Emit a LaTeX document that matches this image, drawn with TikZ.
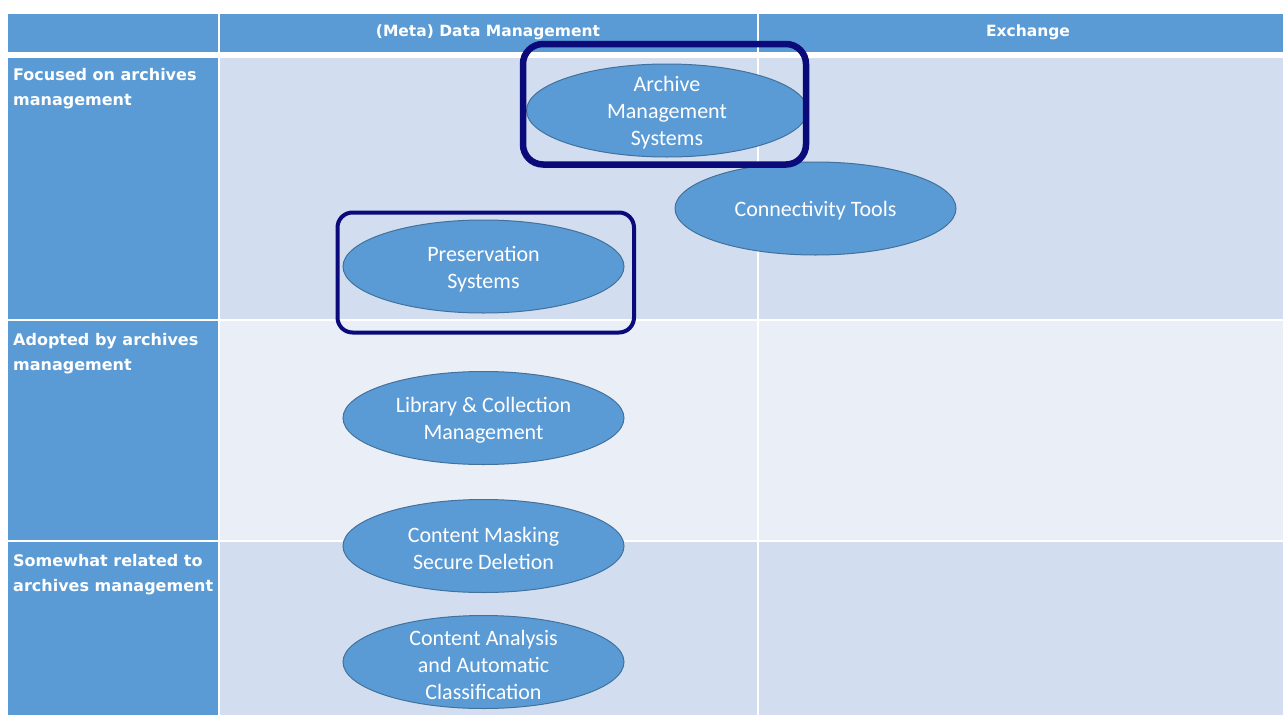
\documentclass[tikz,border=0pt]{standalone}
\usepackage{fontspec}
\setmainfont{Carlito}
\newfontfamily\hdrfont{DejaVu Sans}
\usetikzlibrary{shapes.geometric}

\definecolor{hdrblue}{HTML}{5B9BD5}
\definecolor{bandA}{HTML}{D2DEEF}
\definecolor{bandB}{HTML}{EAEFF7}
\definecolor{ovalline}{HTML}{41719C}
\definecolor{framenavy}{RGB}{10,10,122}

\tikzset{
  cellhead/.style={fill=hdrblue},
  oval/.style={ellipse, draw=ovalline, line width=1pt, fill=hdrblue,
    minimum width=281pt, minimum height=93pt, inner sep=0pt},
  ovaltext/.style={text=white, align=center, inner sep=0pt,
    font=\fontsize{22}{27}\selectfont},
  coltitle/.style={text=white, font=\hdrfont\bfseries\fontsize{15.5}{19}\selectfont},
  rowtitle/.style={text=white, anchor=north west, align=left, inner sep=0pt,
    font=\hdrfont\bfseries\fontsize{16}{25}\selectfont},
  focusframe/.style={draw=framenavy, rounded corners=#1},
}

\begin{document}
\begin{tikzpicture}[x=1pt, y=-1pt]
  % canvas
  \fill[white] (0,0) rectangle (1283,715);
  \useasboundingbox (0,0) rectangle (1283,715);

  % header row
  \fill[cellhead] (8,14) rectangle (218,52);
  \fill[cellhead] (220,14) rectangle (757,52);
  \fill[cellhead] (759,14) rectangle (1283,52);

  % row label column
  \fill[cellhead] (8,58) rectangle (218,319);
  \fill[cellhead] (8,321) rectangle (218,540);
  \fill[cellhead] (8,542) rectangle (218,715);

  % body bands
  \fill[bandA] (220,58) rectangle (757,319);
  \fill[bandA] (759,58) rectangle (1283,319);
  \fill[bandB] (220,321) rectangle (757,540);
  \fill[bandB] (759,321) rectangle (1283,540);
  \fill[bandA] (220,542) rectangle (757,715);
  \fill[bandA] (759,542) rectangle (1283,715);

  % column titles
  \node[coltitle] (hmeta) at (488,32) {(Meta) Data Management};
  \node[coltitle] (hexch) at (1028,32) {Exchange};

  % row titles
  \node[rowtitle] (rfocus) at (13,68.5) {Focused on archives\\management};
  \node[rowtitle] (radopt) at (13,333.5) {Adopted by archives\\management};
  \node[rowtitle] (rsome) at (13,554) {Somewhat related to\\archives management};

  % frame around the preservation group
  \draw[focusframe=15pt, line width=4pt] (337.5,212.5) rectangle (634,332.5);

  % tool categories
  \node[oval] (ams) at (667,110.5) {};
  \node[oval] (conn) at (815.5,208.5) {};
  \node[oval] (pres) at (483.5,266.5) {};
  \node[oval] (lib) at (483.5,418) {};
  \node[oval] (mask) at (483.5,546) {};
  \node[oval] (anal) at (483.5,662) {};

  \node[ovaltext] (amsT) at ([yshift=-2.5pt]ams.center) {Archive\\Management\\Systems};
  \node[ovaltext] (connT) at ([yshift=-2.5pt]conn.center) {Connectivity Tools};
  \node[ovaltext] (presT) at ([yshift=-2.5pt]pres.center) {Preservation\\Systems};
  \node[ovaltext] (libT) at ([yshift=-2.5pt]lib.center) {Library \& Collection\\Management};
  \node[ovaltext] (maskT) at ([yshift=-2.5pt]mask.center) {Content Masking\\Secure Deletion};
  \node[ovaltext] (analT) at ([yshift=-2.5pt]anal.center) {Content Analysis\\and Automatic\\Classification};

  % frame around the archive management group
  \draw[focusframe=20pt, line width=6.5pt] (523,44) rectangle (806,164.5);
\end{tikzpicture}
\end{document}
